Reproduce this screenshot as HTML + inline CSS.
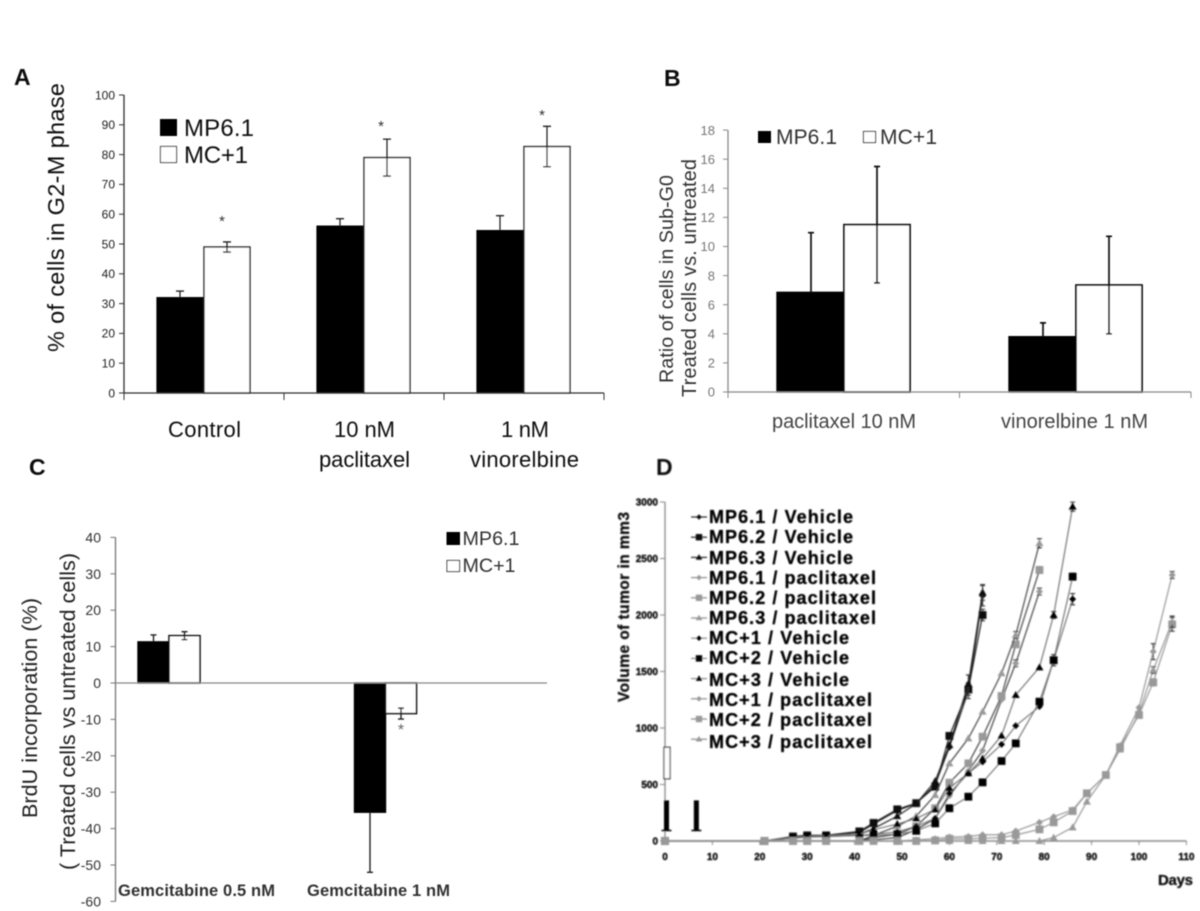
<!DOCTYPE html>
<html lang="en">
<head>
<meta charset="utf-8">
<title>Cell cycle and tumor volume figure</title>
<style>
html,body{margin:0;padding:0;background:#fff;width:1200px;height:911px;overflow:hidden}
svg{display:block}
text{font-family:"Liberation Sans",sans-serif}
</style>
</head>
<body>
<svg id="fig" xmlns="http://www.w3.org/2000/svg" width="1200" height="911" viewBox="0 0 1200 911">
<defs>
<filter id="soft" x="-2%" y="-2%" width="104%" height="104%"><feGaussianBlur stdDeviation="0.5"/></filter>
<filter id="softer" x="-2%" y="-2%" width="104%" height="104%"><feGaussianBlur stdDeviation="0.75"/></filter>
</defs>
<rect width="1200" height="911" fill="#fff"/>

<g id="panelA" filter="url(#soft)">
<text x="14" y="85" font-size="23" font-weight="bold" fill="#111" textLength="20">A</text>
<text transform="translate(64,352) rotate(-90)" font-size="23.5" fill="#111" textLength="269">% of cells in G2-M phase</text>
<rect x="160" y="119" width="17" height="17" fill="#000"/>
<text x="184" y="136" font-size="24" fill="#111" textLength="70">MP6.1</text>
<rect x="160.5" y="146.5" width="16" height="16" fill="#fff" stroke="#222" stroke-width="1"/>
<text x="184" y="163" font-size="24" fill="#111" textLength="64">MC+1</text>
<text x="168" y="437" font-size="22" fill="#111" textLength="73">Control</text>
<text x="334" y="437" font-size="22" fill="#111" textLength="61">10 nM</text>
<text x="319" y="467" font-size="22" fill="#111" textLength="91">paclitaxel</text>
<text x="501" y="437" font-size="22" fill="#111" textLength="48">1 nM</text>
<text x="470" y="467" font-size="22" fill="#111" textLength="109">vinorelbine</text>
<text x="222" y="226" font-size="15" text-anchor="middle" fill="#333">*</text>
<text x="381" y="131" font-size="15" text-anchor="middle" fill="#333">*</text>
<text x="542" y="120" font-size="15" text-anchor="middle" fill="#333">*</text>
</g>

<g id="panelB" filter="url(#soft)">
<text x="664" y="86" font-size="23" font-weight="bold" fill="#111" textLength="16">B</text>
<text transform="translate(673,383) rotate(-90)" font-size="19.7" fill="#333" textLength="208">Ratio of cells in Sub-G0</text>
<text transform="translate(696,397) rotate(-90)" font-size="20" fill="#333" textLength="238">Treated cells vs. untreated</text>
<rect x="758" y="131" width="13" height="12" fill="#000"/>
<text x="776" y="144" font-size="21" fill="#333" textLength="61">MP6.1</text>
<rect x="863.5" y="131.5" width="12" height="11" fill="#fff" stroke="#222" stroke-width="1"/>
<text x="880" y="144" font-size="21" fill="#333" textLength="57">MC+1</text>
<text x="772" y="428" font-size="20" fill="#444" textLength="144">paclitaxel 10 nM</text>
<text x="1001" y="428" font-size="20" fill="#444" textLength="147">vinorelbine 1 nM</text>
</g>

<g id="panelC" filter="url(#soft)">
<text x="29" y="475" font-size="23" font-weight="bold" fill="#111" textLength="18">C</text>
<text transform="translate(37,818) rotate(-90)" font-size="21.5" fill="#222" textLength="220">BrdU incorporation  (%)</text>
<text transform="translate(75,870) rotate(-90)" font-size="21.5" fill="#222" textLength="317">( Treated cells vs untreated cells)</text>
<rect x="446.5" y="532" width="13.5" height="13" fill="#000"/>
<text x="462.5" y="545" font-size="19.7" fill="#333" textLength="57">MP6.1</text>
<rect x="447" y="560.5" width="12.5" height="11" fill="#fff" stroke="#222" stroke-width="1"/>
<text x="462.5" y="572" font-size="19.7" fill="#333" textLength="53">MC+1</text>
<text x="118" y="896" font-size="16.5" font-weight="bold" fill="#333" textLength="157">Gemcitabine 0.5 nM</text>
<text x="307" y="896" font-size="16.5" font-weight="bold" fill="#333" textLength="143">Gemcitabine 1 nM</text>
<text x="401" y="735" font-size="16" text-anchor="middle" fill="#666">*</text>
</g>

<g id="panelD" filter="url(#softer)">
<text x="656" y="475" font-size="23" font-weight="bold" fill="#111" textLength="17">D</text>
<text transform="translate(629,702) rotate(-90)" font-size="15.5" font-weight="bold" fill="#111" stroke="#111" stroke-width="0.3" textLength="190">Volume of tumor in mm3</text>
<text x="1158" y="885" font-size="15" font-weight="bold" fill="#111" stroke="#111" stroke-width="0.3" textLength="35">Days</text>
<text x="709" y="523" font-size="18" font-weight="bold" fill="#000" stroke="#000" stroke-width="0.3" textLength="144">MP6.1 / Vehicle</text>
<text x="709" y="543" font-size="18" font-weight="bold" fill="#000" stroke="#000" stroke-width="0.3" textLength="144">MP6.2 / Vehicle</text>
<text x="709" y="564" font-size="18" font-weight="bold" fill="#000" stroke="#000" stroke-width="0.3" textLength="144">MP6.3 / Vehicle</text>
<text x="709" y="584" font-size="18" font-weight="bold" fill="#000" stroke="#000" stroke-width="0.3" textLength="167">MP6.1 / paclitaxel</text>
<text x="709" y="604" font-size="18" font-weight="bold" fill="#000" stroke="#000" stroke-width="0.3" textLength="167">MP6.2 / paclitaxel</text>
<text x="709" y="624" font-size="18" font-weight="bold" fill="#000" stroke="#000" stroke-width="0.3" textLength="167">MP6.3 / paclitaxel</text>
<text x="709" y="644" font-size="18" font-weight="bold" fill="#000" stroke="#000" stroke-width="0.3" textLength="140">MC+1 / Vehicle</text>
<text x="709" y="664" font-size="18" font-weight="bold" fill="#000" stroke="#000" stroke-width="0.3" textLength="140">MC+2 / Vehicle</text>
<text x="709" y="686" font-size="18" font-weight="bold" fill="#000" stroke="#000" stroke-width="0.3" textLength="140">MC+3 / Vehicle</text>
<text x="709" y="706" font-size="18" font-weight="bold" fill="#000" stroke="#000" stroke-width="0.3" textLength="163">MC+1 / paclitaxel</text>
<text x="709" y="726" font-size="18" font-weight="bold" fill="#000" stroke="#000" stroke-width="0.3" textLength="163">MC+2 / paclitaxel</text>
<text x="709" y="748" font-size="18" font-weight="bold" fill="#000" stroke="#000" stroke-width="0.3" textLength="163">MC+3 / paclitaxel</text>
</g>
</svg>

<script>
// Panel A data
const aTicks = [0,10,20,30,40,50,60,70,80,90,100];
const aCategories = ['control','paclitaxel-10nm','vinorelbine-1nm'];
const aMP = [32,56,54.5];
const aMC = [49,79,82.7];
const aMPErr = [2.2,2.5,5];
const aMCErr = [1.7,6.2,6.8];

// Panel B data
const bTicks = [0,2,4,6,8,10,12,14,16,18];
const bCategories = ['paclitaxel-10nm','vinorelbine-1nm'];
const bMP = [6.85,3.8];
const bMC = [11.5,7.35];
const bMPErr = [4.1,0.95];
const bMCErr = [4,3.35];

// Panel C data
const cTicks = [-60,-50,-40,-30,-20,-10,0,10,20,30,40];
const cCategories = ['gemcitabine-0-5nm','gemcitabine-1nm'];
const cMP = [11.3,-35.5];
const cMC = [13,-8.4];
const cMPErr = [1.9,16.5];
const cMCErr = [1.1,1.5];

// Panel D data
const dYTicks = [0,500,1000,1500,2000,2500,3000];
const dXTicks = [0,10,20,30,40,50,60,70,80,90,100,110];
const daysFast = [0,21,27,30,34,41,44,49,53,57,60,64,67];
const daysMid = [0,21,27,30,34,41,44,49,53,57,60,64,67,71,74,79];
const daysLate = [0,21,27,30,34,41,44,49,53,57,60,64,67,71,74,79,82,86];
const daysSlow = [0,21,27,30,34,41,44,49,53,57,60,64,67,71,74,79,82,86,89,93,96,100,103,107];
const mp61Vehicle = [0,0,35,45,50,75,150,270,330,500,830,1330,2170];
const mp62Vehicle = [0,0,40,50,50,85,160,280,335,480,930,1340,2000];
const mp63Vehicle = [0,0,30,40,45,60,110,220,330,530,850,1390,2200];
const mp61Pac = [0,0,0,0,0,0,10,30,100,200,400,620,800,1250,1572,2207];
const mp62Pac = [0,0,0,0,0,0,30,60,130,290,516,687,923,1283,1740,2398];
const mp63Pac = [0,0,0,0,0,0,50,130,220,407,687,908,1145,1484,1823,2635];
const mc1Vehicle = [0,0,25,35,40,50,60,80,130,200,420,600,700,855,1020,1190,1600,2140];
const mc2Vehicle = [0,0,25,35,40,50,50,60,90,156,290,392,519,708,864,1233,1600,2339];
const mc3Vehicle = [0,0,30,40,45,60,100,150,200,280,470,600,730,932,1292,1537,2000,2959];
const mc1Pac = [0,0,0,0,0,0,0,0,10,20,35,40,55,55,88,165,215,275,422,584,844,1180,1676,2354];
const mc2Pac = [0,0,0,0,0,0,0,0,0,5,20,20,25,30,53,103,165,265,422,584,830,1115,1404,1917];
const mc3Pac = [0,0,0,0,0,0,0,0,0,0,0,0,0,0,0,0,30,121,348,584,810,1130,1513,1941];
const dEndErr = [90,50,70,30,30,40,50,30,40,30,60,50];
const dPrevErr = [70,50,80,30,20,30,30,50,30,70,30,30];
const dSeriesValues = [mp61Vehicle,mp62Vehicle,mp63Vehicle,mp61Pac,mp62Pac,mp63Pac,mc1Vehicle,mc2Vehicle,mc3Vehicle,mc1Pac,mc2Pac,mc3Pac];
const dSeriesDays = [daysFast,daysFast,daysFast,daysMid,daysMid,daysMid,daysLate,daysLate,daysLate,daysSlow,daysSlow,daysSlow];
const dSeriesNames = ['mp6-1-vehicle','mp6-2-vehicle','mp6-3-vehicle','mp6-1-paclitaxel','mp6-2-paclitaxel','mp6-3-paclitaxel','mc-1-vehicle','mc-2-vehicle','mc-3-vehicle','mc-1-paclitaxel','mc-2-paclitaxel','mc-3-paclitaxel'];
const dTreatmentDays = [0,6.3];
const dTreatmentLow = 100;
const dTreatmentHigh = 360;
const dExtraLow = 550;
const dExtraHigh = 830;

const NS = 'http://www.w3.org/2000/svg';
function add(parent, tag, attrs) {
  const el = document.createElementNS(NS, tag);
  for (const k in attrs) el.setAttribute(k, attrs[k]);
  parent.appendChild(el);
  return el;
}

function drawAxisLine(g, name, x1, y1, x2, y2, color, width) {
  const el = add(g, 'line', {x1:x1, y1:y1, x2:x2, y2:y2, stroke:color, 'stroke-width':width});
  
  
}

function drawYAxis(g, ticks, yFn, axisX, labelX, fontSize, textColor, axisColor, bold) {
  const ys = ticks.map(yFn);
  drawAxisLine(g, 'y-axis', axisX, Math.min(...ys), axisX, Math.max(...ys), axisColor, 1.3);
  ticks.forEach(t => {
    drawAxisLine(g, 'y-tick', axisX - 5, yFn(t), axisX, yFn(t), axisColor, 1);
    const label = add(g, 'text', {x:labelX, y:yFn(t) + fontSize * 0.36, 'font-size':fontSize, 'text-anchor':'end', fill:textColor});
    
    
    if (bold) { label.setAttribute('font-weight', 'bold'); label.setAttribute('stroke', textColor); label.setAttribute('stroke-width', '0.4'); }
    label.textContent = t;
  });
}

function drawBar(g, name, xLeft, width, v, yFn, fill, stroke, sw) {
  const top = Math.min(yFn(v), yFn(0));
  const h = Math.abs(yFn(v) - yFn(0));
  const el = add(g, 'rect', {x:xLeft, y:top, width:width, height:h, fill:fill, stroke:stroke, 'stroke-width':sw});
  
  
}

// Two-sided error bar with caps at both ends.
function drawErr(g, name, cx, v, err, yFn, cap, color, sw) {
  const e = add(g, 'path', {d:'M' + (cx-cap) + ' ' + yFn(v+err) + 'H' + (cx+cap) + 'M' + cx + ' ' + yFn(v+err) + 'V' + yFn(v-err) + 'M' + (cx-cap) + ' ' + yFn(v-err) + 'H' + (cx+cap), fill:'none', stroke:color, 'stroke-width':sw});
  
  
}

// One-sided error bar running away from zero, for the solid black bars.
function drawErrOut(g, name, cx, v, err, yFn, cap, color, sw) {
  const end = v >= 0 ? v + err : v - err;
  const e = add(g, 'path', {d:'M' + (cx-cap) + ' ' + yFn(end) + 'H' + (cx+cap) + 'M' + cx + ' ' + yFn(end) + 'V' + yFn(v), fill:'none', stroke:color, 'stroke-width':sw});
  
  
}

// Panel A
const gA = document.getElementById('panelA');
const yA = v => 393 - v * 2.98;
const xA = i => 124 + 160 * (i + 0.5);
drawYAxis(gA, aTicks, yA, 124, 115, 12, '#222', '#333', false);
aCategories.forEach((c, i) => {
  drawBar(gA, 'bar-mp6-1-' + c, xA(i) - 47, 47, aMP[i], yA, '#000', '#000', 1.2);
  drawBar(gA, 'bar-mc-1-' + c, xA(i), 46, aMC[i], yA, '#fff', '#222', 1.4);
  drawErrOut(gA, 'error-bar-mp6-1-' + c, xA(i) - 24, aMP[i], aMPErr[i], yA, 4, '#222', 1.3);
  drawErr(gA, 'error-bar-mc-1-' + c, xA(i) + 23, aMC[i], aMCErr[i], yA, 4, '#222', 1.3);
});
drawAxisLine(gA, 'x-axis', 124, yA(0), 604, yA(0), '#333', 1.3);
[0,1,2,3].forEach(i => drawAxisLine(gA, 'x-tick', 124 + 160 * i, yA(0), 124 + 160 * i, yA(0) + 7, '#333', 1));

// Panel B
const gB = document.getElementById('panelB');
const yB = v => 392 - v * 14.55;
const xB = i => 844 + 232 * i;
drawYAxis(gB, bTicks, yB, 728, 715, 13, '#777', '#888', false);
bCategories.forEach((c, i) => {
  drawBar(gB, 'bar-mp6-1-' + c, xB(i) - 67, 67, bMP[i], yB, '#000', '#000', 1.4);
  drawBar(gB, 'bar-mc-1-' + c, xB(i), 66, bMC[i], yB, '#fff', '#111', 1.8);
  drawErrOut(gB, 'error-bar-mp6-1-' + c, xB(i) - 33, bMP[i], bMPErr[i], yB, 3, '#111', 1.7);
  drawErr(gB, 'error-bar-mc-1-' + c, xB(i) + 33, bMC[i], bMCErr[i], yB, 3, '#111', 1.7);
});
drawAxisLine(gB, 'x-axis', 728, yB(0), 1191, yB(0), '#888', 1.2);
[0,1,2].forEach(i => drawAxisLine(gB, 'x-tick', 728 + 231.5 * i, yB(0), 728 + 231.5 * i, yB(0) + 6, '#888', 1));

// Panel C
const gC = document.getElementById('panelC');
const yC = v => 683 - v * 3.64;
const xC = i => 169 + 216.5 * i;
drawYAxis(gC, cTicks, yC, 115.5, 101, 14, '#333', '#777', false);
cCategories.forEach((c, i) => {
  drawBar(gC, 'bar-mp6-1-' + c, xC(i) - 31, 31, cMP[i], yC, '#000', '#000', 1.4);
  drawBar(gC, 'bar-mc-1-' + c, xC(i), 31, cMC[i], yC, '#fff', '#111', 1.6);
  drawErrOut(gC, 'error-bar-mp6-1-' + c, xC(i) - 15.5, cMP[i], cMPErr[i], yC, 3, '#222', 1.4);
  drawErr(gC, 'error-bar-mc-1-' + c, xC(i) + 15.5, cMC[i], cMCErr[i], yC, 3, '#222', 1.4);
});
drawAxisLine(gC, 'zero-line', 115.5, yC(0), 547, yC(0), '#888', 1.2);

// Panel D
const gD = document.getElementById('panelD');
const yD = v => 841 - v * 0.113;
const xD = d => 665 + d * 4.74;

drawYAxis(gD, dYTicks, yD, xD(0), 658, 10, '#111', '#888', true);
drawAxisLine(gD, 'x-axis', xD(0), yD(0), xD(110), yD(0), '#888', 1.6);
dXTicks.forEach(t => {
  drawAxisLine(gD, 'x-tick', xD(t), yD(0), xD(t), yD(0) + 4, '#888', 1);
  const label = add(gD, 'text', {x:xD(t), y:860, 'font-size':10, 'font-weight':'bold', 'text-anchor':'middle', fill:'#111', stroke:'#111', 'stroke-width':0.4});
  
  
  label.textContent = t;
});

function markerShape(g, kind, x, y, s, color) {
  let el;
  if (kind === 0) el = add(g, 'polygon', {points:(x)+','+(y-s)+' '+(x+s)+','+y+' '+x+','+(y+s)+' '+(x-s)+','+y, fill:color});
  else if (kind === 1) el = add(g, 'rect', {x:x-s, y:y-s, width:2*s, height:2*s, fill:color});
  else el = add(g, 'polygon', {points:x+','+(y-s-0.5)+' '+(x+s+0.5)+','+(y+s-0.5)+' '+(x-s-0.5)+','+(y+s-0.5), fill:color});
  return el;
}

const lineColor = i => i < 3 ? '#222' : i < 6 ? '#444' : i < 9 ? '#777' : '#999';
const markColor = i => i < 3 ? '#111' : i < 6 ? '#999' : i < 9 ? '#000' : '#999';
const markSize = i => (i % 3 === 1) ? 3.9 : 3.5;

dSeriesValues.forEach((vals, i) => {
  const days = dSeriesDays[i];
  const g = add(gD, 'g', {});
  
  
  const pts = vals.map((v, j) => xD(days[j]) + ',' + yD(v)).join(' ');
  const line = add(g, 'polyline', {points:pts, fill:'none', stroke:lineColor(i), 'stroke-width':1.2});
  
  
  const n = vals.length;
  drawErr(g, 'error-bar-end', xD(days[n-1]), vals[n-1], dEndErr[i], yD, 2.5, '#333', 1.1);
  drawErr(g, 'error-bar-previous', xD(days[n-2]), vals[n-2], dPrevErr[i], yD, 2.5, '#333', 1.1);
  vals.forEach((v, j) => {
    const m = markerShape(g, i % 3, xD(days[j]), yD(v), markSize(i), markColor(i));
    
    
  });
  // legend handle
  const hy = 517 + i * 20.2;
  const handle = add(gD, 'line', {x1:691, y1:hy, x2:707, y2:hy, stroke:i < 3 ? '#222' : '#888', 'stroke-width':1.2});
  
  
  const hm = markerShape(gD, i % 3, 699, hy, markSize(i) - 0.7, markColor(i));
  
  
});

dTreatmentDays.forEach(d => {
  const cx = xD(d) + 1.5;
  const w = add(gD, 'path', {d:'M' + (cx-2.5) + ' ' + yD(dTreatmentHigh) + 'H' + (cx+2.5) + 'V' + yD(dTreatmentLow) + 'H' + (cx+5) + 'V' + (yD(dTreatmentLow)+1.5) + 'H' + (cx-5) + 'V' + yD(dTreatmentLow) + 'H' + (cx-2.5) + 'Z', fill:'#000'});
  
  
});
const extra = add(gD, 'rect', {x:xD(0)-1, y:yD(dExtraHigh), width:6, height:yD(dExtraLow)-yD(dExtraHigh), fill:'#fff', stroke:'#111', 'stroke-width':1.1});


</script>
</body>
</html>
